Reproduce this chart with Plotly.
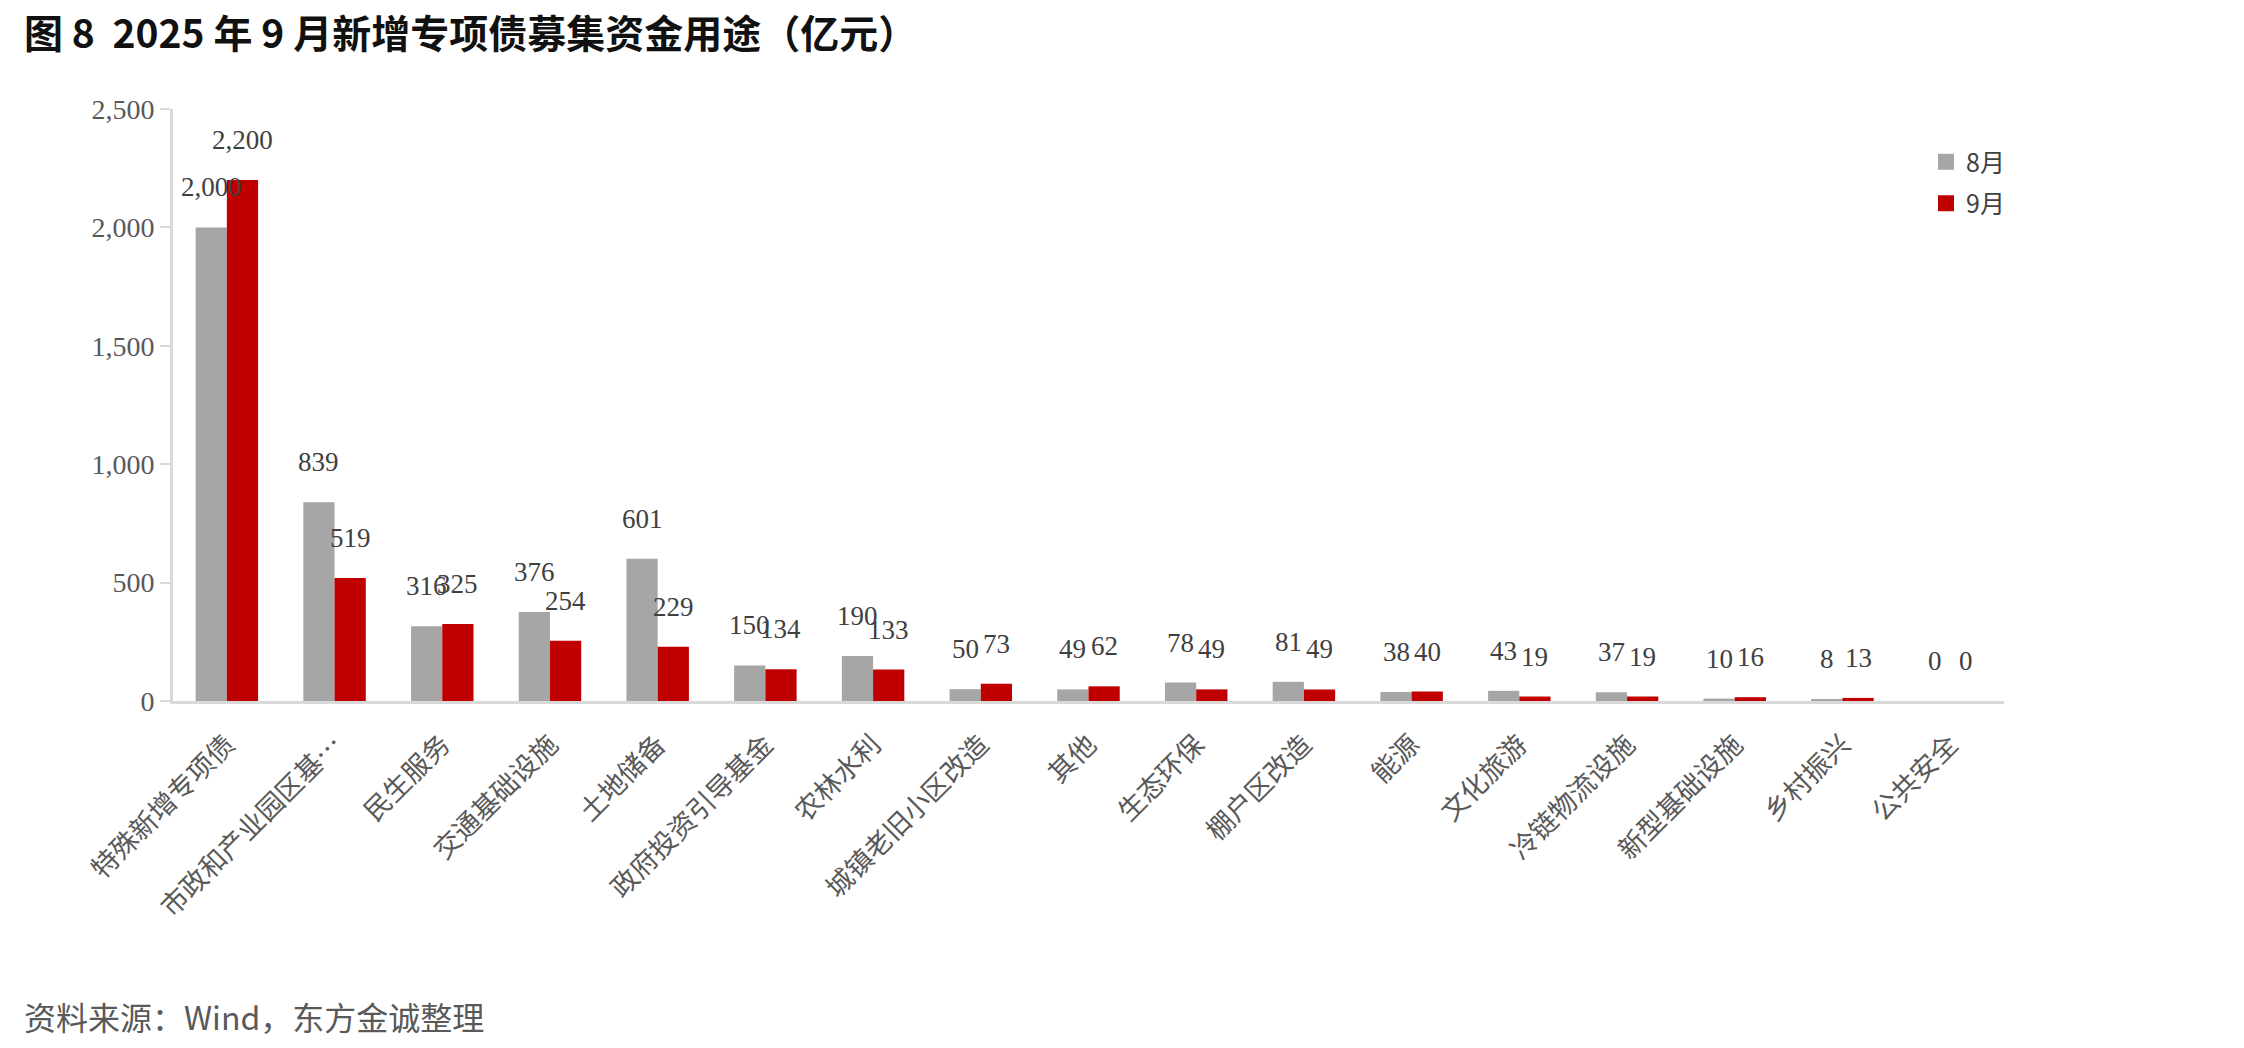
import plotly.graph_objects as go

categories = ["特殊新增专项债", "市政和产业园区基…", "民生服务", "交通基础设施", "土地储备",
              "政府投资引导基金", "农林水利", "城镇老旧小区改造", "其他", "生态环保",
              "棚户区改造", "能源", "文化旅游", "冷链物流设施", "新型基础设施", "乡村振兴", "公共安全"]
aug_values = [2000, 839, 316, 376, 601, 150, 190, 50, 49, 78, 81, 38, 43, 37, 10, 8, 0]
sep_values = [2200, 519, 325, 254, 229, 134, 133, 73, 62, 49, 49, 40, 19, 19, 16, 13, 0]
series_names = ["8月", "9月"]
y_ticks = [0, 500, 1000, 1500, 2000, 2500]

W, H = 2244, 1048
L, R, T, B = 173, 240, 109, 347
GRAY = "#A6A6A6"
RED = "#C00000"
TXT = "#404040"
plot_w = W - L - R
plot_h = H - T - B

fig = go.Figure()
for name, vals, col in ((series_names[0], aug_values, GRAY), (series_names[1], sep_values, RED)):
    fig.add_trace(go.Bar(x=categories, y=vals, name=name, marker_color=col,
                         marker_line_width=0, showlegend=False))
    # legend entry with a larger square swatch
    fig.add_trace(go.Scatter(x=[None], y=[None], mode="markers", name=name, legendgroup=name,
                             marker=dict(symbol="square", size=18, color=col)))

cat_w = plot_w / len(categories)
bargap = 0.42
bar_w = cat_w * (1 - bargap) / 2

for vals, sign in ((aug_values, -1), (sep_values, 1)):
    for c, v in zip(categories, vals):
        fig.add_annotation(x=c, y=v, xref="x", yref="y", text=f"{v:,}", showarrow=False,
                           xshift=sign * bar_w / 2, yshift=40, yanchor="middle",
                           font=dict(family="Liberation Serif", size=27, color=TXT))

fig.add_annotation(xref="paper", yref="paper", x=-(L - 22) / plot_w, y=1 + (T - 1) / plot_h,
                   xanchor="left", yanchor="top", showarrow=False,
                   text="<b>图 8  2025 年 9 月新增专项债募集资金用途（亿元）</b>",
                   font=dict(family="Noto Sans CJK SC", size=39, color="#111111"))
fig.add_annotation(xref="paper", yref="paper", x=-(L - 22) / plot_w, y=-(1016 - (H - B)) / plot_h,
                   xanchor="left", yanchor="middle", showarrow=False,
                   text="资料来源：Wind，东方金诚整理",
                   font=dict(family="Noto Sans CJK SC", size=32, color="#595959"))

fig.update_layout(
    width=W, height=H,
    margin=dict(l=L, r=R, t=T, b=B, autoexpand=False),
    paper_bgcolor="white", plot_bgcolor="white",
    barmode="group", bargap=bargap, bargroupgap=0,
    showlegend=True,
    legend=dict(x=(1926 - L) / plot_w, y=1 - (139 - T) / plot_h, xref="paper", yref="paper",
                xanchor="left", yanchor="top",
                font=dict(family="Noto Sans CJK SC", size=25, color=TXT),
                tracegroupgap=6, itemwidth=30, bgcolor="rgba(0,0,0,0)"),
    xaxis=dict(showline=True, linecolor="#D9D9D9", linewidth=3, ticks="",
               tickangle=-45, ticklabelstandoff=14,
               tickfont=dict(family="Noto Sans CJK SC", size=27, color="#595959"),
               showgrid=False, zeroline=False),
    yaxis=dict(range=[0, 2500], tickvals=y_ticks, tickformat=",", showline=True,
               linecolor="#D9D9D9", linewidth=3, ticks="outside", ticklen=10,
               tickcolor="#D9D9D9", tickwidth=2,
               tickfont=dict(family="Liberation Serif", size=28, color="#595959"),
               showgrid=False, zeroline=False),
)

fig.write_html("out.html")
